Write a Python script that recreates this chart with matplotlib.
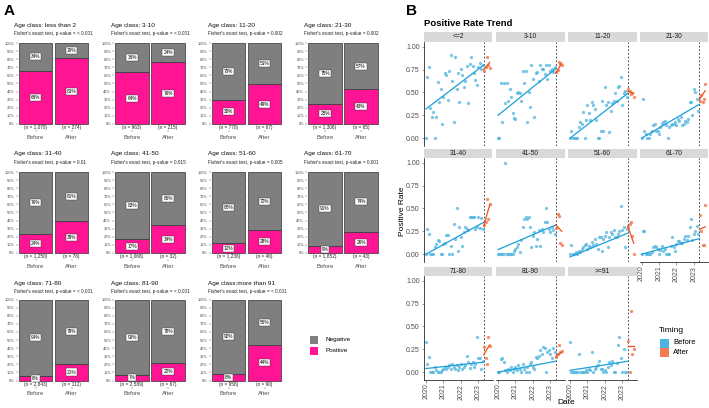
import numpy as np
import matplotlib
matplotlib.use("Agg")
import matplotlib.pyplot as plt
from matplotlib.patches import Rectangle

plt.rcParams['font.family'] = ['Liberation Sans', 'DejaVu Sans']

# ---------------- Panel A data ----------------
age_titles = ["Age class: less than 2", "Age class: 3-10", "Age class: 11-20", "Age class: 21-30",
              "Age class: 31-40", "Age class: 41-50", "Age class: 51-60", "Age class: 61-70",
              "Age class: 71-80", "Age class: 81-90", "Age class:more than 91"]
p_values = ["< 0.001", "< 0.001", "0.002", "0.002", "0.01", "0.015", "0.005", "0.001",
            "< 0.001", "< 0.001", "< 0.001"]
pos_before = [66, 64, 30, 25, 24, 17, 12, 9, 6, 7, 8]
pos_after = [81, 76, 49, 43, 39, 34, 28, 26, 21, 22, 44]
n_before = ["1,070", "963", "770", "1,306", "1,250", "1,068", "1,238", "1,852", "2,843", "2,589", "958"]
n_after = ["274", "215", "67", "65", "76", "32", "46", "43", "112", "67", "90"]
timing_labels = ["Before", "After"]

# ---------------- Panel B data ----------------
facet_names = ["<=2", "3-10", "11-20", "21-30", "31-40", "41-50", "51-60", "61-70",
               "71-80", "81-90", ">=91"]
before_dates = 2020 + np.arange(40) / 12.0   # monthly, Jan 2020 - Apr 2023
after_dates = [2023.35, 2023.42, 2023.50, 2023.57, 2023.65]
cutoff = 2023.31

rate_before = {
    "<=2": [0.00, 0.67, 0.78, 0.33, 0.23, 0.29, 0.00, 0.23, 0.61, 0.40, 0.54, 0.16, 0.45, 0.71, 0.69, 0.42,
            0.73, 0.91, 0.63, 0.18, 0.89, 0.54, 0.71, 0.40, 0.76, 0.69, 0.56, 0.62, 0.79, 0.38, 0.81, 0.89,
            0.79, 0.71, 0.64, 0.58, 0.78, 0.82, 0.76, 0.80],
    "3-10": [0.00, 0.00, 0.60, 0.18, 0.60, 0.38, 0.60, 0.41, 0.54, 0.45, 0.27, 0.22, 0.21, 0.49, 0.51, 0.49,
             0.41, 0.73, 0.60, 0.73, 0.18, 0.50, 0.34, 0.80, 0.65, 0.23, 0.71, 0.72, 0.62, 0.80, 0.76, 0.76,
             0.70, 0.80, 0.65, 0.80, 0.74, 0.76, 0.72, 0.78],
    "11-20": [0.00, 0.08, 0.00, 0.00, 0.00, 0.00, 0.12, 0.18, 0.16, 0.29, 0.00, 0.20, 0.36, 0.27, 0.20, 0.40,
              0.36, 0.32, 0.20, 0.00, 0.00, 0.08, 0.41, 0.08, 0.56, 0.36, 0.40, 0.07, 0.30, 0.38, 0.41, 0.49,
              0.41, 0.56, 0.57, 0.67, 0.36, 0.49, 0.52, 0.45],
    "21-30": [0.00, 0.43, 0.08, 0.05, 0.00, 0.00, 0.05, 0.08, 0.14, 0.16, 0.08, 0.08, 0.05, 0.12, 0.16, 0.18,
              0.19, 0.14, 0.00, 0.12, 0.14, 0.16, 0.16, 0.18, 0.14, 0.21, 0.19, 0.23, 0.14, 0.16, 0.19, 0.18,
              0.21, 0.40, 0.40, 0.25, 0.54, 0.51, 0.43, 0.30],
    "31-40": [0.00, 0.28, 0.22, 0.00, 0.00, 0.00, 0.08, 0.11, 0.15, 0.14, 0.00, 0.00, 0.11, 0.12, 0.21, 0.21,
              0.00, 0.09, 0.00, 0.33, 0.17, 0.50, 0.04, 0.30, 0.19, 0.09, 0.24, 0.30, 0.28, 0.26, 0.41, 0.41,
              0.41, 0.41, 0.28, 0.30, 0.41, 0.29, 0.40, 0.27],
    "41-50": [0.00, 0.00, 0.00, 0.00, 0.00, 1.00, 0.00, 0.00, 0.00, 0.00, 0.00, 0.04, 0.06, 0.08, 0.11, 0.02,
              0.15, 0.30, 0.39, 0.41, 0.39, 0.41, 0.30, 0.08, 0.20, 0.24, 0.09, 0.17, 0.26, 0.09, 0.28, 0.24,
              0.35, 0.50, 0.35, 0.28, 0.24, 0.30, 0.26, 0.22],
    "51-60": [0.00, 0.10, 0.00, 0.00, 0.02, 0.00, 0.04, 0.02, 0.06, 0.08, 0.10, 0.11, 0.06, 0.09, 0.08, 0.13,
              0.10, 0.17, 0.11, 0.06, 0.19, 0.19, 0.04, 0.17, 0.20, 0.24, 0.08, 0.19, 0.24, 0.22, 0.26, 0.19,
              0.19, 0.22, 0.25, 0.53, 0.26, 0.30, 0.08, 0.27],
    "61-70": [0.00, 0.25, 0.25, 0.00, 0.00, 0.00, 0.00, 0.02, 0.08, 0.09, 0.08, 0.06, 0.00, 0.05, 0.09, 0.04,
              0.06, 0.00, 0.00, 0.00, 0.09, 0.19, 0.08, 0.04, 0.11, 0.14, 0.14, 0.12, 0.12, 0.17, 0.20, 0.15,
              0.20, 0.30, 0.38, 0.16, 0.22, 0.25, 0.31, 0.22],
    "71-80": [0.33, 0.09, 0.17, 0.00, 0.00, 0.00, 0.06, 0.02, 0.00, 0.00, 0.00, 0.02, 0.04, 0.06, 0.04, 0.06,
              0.08, 0.04, 0.09, 0.06, 0.04, 0.08, 0.02, 0.06, 0.09, 0.04, 0.06, 0.08, 0.18, 0.11, 0.05, 0.09,
              0.11, 0.06, 0.09, 0.39, 0.15, 0.15, 0.04, 0.12],
    "81-90": [0.00, 0.00, 0.14, 0.15, 0.11, 0.02, 0.00, 0.04, 0.02, 0.06, 0.00, 0.04, 0.06, 0.02, 0.08, 0.04,
              0.00, 0.09, 0.04, 0.00, 0.06, 0.00, 0.09, 0.11, 0.06, 0.04, 0.17, 0.15, 0.18, 0.24, 0.20, 0.27,
              0.26, 0.00, 0.22, 0.24, 0.20, 0.16, 0.26, 0.22],
    ">=91": [0.33, 0.00, 0.00, 0.00, 0.00, 0.00, 0.20, 0.00, 0.00, 0.00, 0.00, 0.02, 0.00, 0.04, 0.02, 0.22,
             0.00, 0.04, 0.06, 0.08, 0.12, 0.04, 0.04, 0.00, 0.02, 0.00, 0.06, 0.11, 0.08, 0.12, 0.00, 0.00,
             0.10, 0.30, 0.39, 0.15, 0.00, 0.25, 0.00, 0.00],
}
rate_after = {
    "<=2": [0.74, 0.78, 0.89, 0.80, 0.77],
    "3-10": [0.72, 0.75, 0.83, 0.81, 0.80],
    "11-20": [0.54, 0.52, 0.48, 0.49, 0.45],
    "21-30": [0.41, 0.47, 0.40, 0.43, 0.59],
    "31-40": [0.32, 0.35, 0.60, 0.39, 0.55],
    "41-50": [0.29, 0.44, 0.42, 0.12, 0.10],
    "51-60": [0.30, 0.33, 0.35, 0.20, 0.00],
    "61-70": [0.43, 0.25, 0.10, 0.10, 0.54],
    "71-80": [0.28, 0.16, 0.09, 0.38, 0.29],
    "81-90": [0.17, 0.20, 0.30, 0.22, 0.23],
    ">=91": [0.34, 0.00, 0.67, 0.20, 0.25],
}
# fitted trend lines (start, end)
fit_before = {"<=2": (0.32, 0.80), "3-10": (0.25, 0.76), "11-20": (0.00, 0.49), "21-30": (0.00, 0.37),
              "31-40": (0.00, 0.35), "41-50": (0.05, 0.32), "51-60": (-0.03, 0.23), "61-70": (0.00, 0.17),
              "71-80": (0.04, 0.11), "81-90": (0.00, 0.12), ">=91": (0.02, 0.12)}
fit_after = {"<=2": (0.75, 0.83), "3-10": (0.71, 0.82), "11-20": (0.51, 0.49), "21-30": (0.42, 0.52),
             "31-40": (0.31, 0.54), "41-50": (0.32, 0.25), "51-60": (0.31, 0.12), "61-70": (0.27, 0.30),
             "71-80": (0.19, 0.30), "81-90": (0.17, 0.22), ">=91": (0.29, 0.29)}

PINK = "#FF1493"
GRAY = "#7F7F7F"
BLUE_PT = "#4DB3E0"
BLUE_LN = "#1A9FD9"
ORANGE_PT = "#F47A4F"
ORANGE_LN = "#F2501A"

W, H = 709, 408
fig = plt.figure(figsize=(W / 100, H / 100), dpi=100)


def add_ax(l, t, r, b):
    return fig.add_axes([l / W, 1 - b / H, (r - l) / W, (b - t) / H])


# ---------------- Panel A ----------------
fig.text(4 / W, 1 - 11 / H, "A", fontsize=11, fontweight="bold", va="center")
a_lefts = [17.5, 114, 210.5, 307]
a_rows = [(41.4, 130, 25, 33), (170.4, 259, 154, 162.5), (298, 386.6, 283, 291)]
for k in range(11):
    r, c = divmod(k, 4)
    top, bot, ty, sy = a_rows[r]
    left = a_lefts[c]
    ax = add_ax(left, top, left + 72, bot)
    pos = [pos_before[k] / 100, pos_after[k] / 100]
    neg = [1 - p for p in pos]
    ax.bar([0, 1], pos, width=0.92, color=PINK, edgecolor="#333333", linewidth=0.5, zorder=2)
    ax.bar([0, 1], neg, bottom=pos, width=0.92, color=GRAY, edgecolor="#333333", linewidth=0.5, zorder=2)
    for i in range(2):
        for val, mid in ((pos[i], pos[i] / 2), (neg[i], pos[i] + neg[i] / 2)):
            ax.text(i, mid, f"{round(val * 100)}%", ha="center", va="center", fontsize=3.4, zorder=3,
                    bbox=dict(boxstyle="square,pad=0.22", fc="white", ec="#333333", lw=0.3))
    ax.text(0, -0.045, f"(n = {n_before[k]})", ha="center", va="center", fontsize=3.4, color="#222222")
    ax.text(1, -0.045, f"(n = {n_after[k]})", ha="center", va="center", fontsize=3.4, color="#222222")
    ax.set_xlim(-0.5, 1.5)
    ax.set_ylim(-0.075, 1.02)
    ax.set_yticks(np.arange(0, 1.01, 0.1))
    ax.set_yticklabels([f"{int(round(v * 100))}%" for v in np.arange(0, 1.01, 0.1)])
    ax.set_xticks([0, 1])
    ax.set_xticklabels(timing_labels)
    ax.tick_params(axis="y", labelsize=2.8, length=1.2, width=0.3, pad=0.8, colors="#4D4D4D")
    ax.tick_params(axis="x", labelsize=4.2, length=1.5, width=0.3, pad=1.8, colors="#4D4D4D")
    ax.yaxis.grid(True, color="#E5E5E5", lw=0.4)
    ax.set_axisbelow(True)
    for s in ax.spines.values():
        s.set_visible(False)
    fig.text((left - 3) / W, 1 - ty / H, age_titles[k], fontsize=4.6, va="center", color="#111111")
    fig.text((left - 3) / W, 1 - sy / H, "Fisher's exact test, p-value = " + p_values[k],
             fontsize=3.4, va="center", color="#222222")

# legend for A
for yy, col, lab in ((340, GRAY, "Negative"), (351, PINK, "Positive")):
    fig.patches.append(Rectangle((310 / W, 1 - (yy + 4) / H), 8 / W, 8 / H, transform=fig.transFigure,
                                 facecolor=col, edgecolor="none"))
    fig.text(325 / W, 1 - yy / H, lab, fontsize=4.6, va="center")

# ---------------- Panel B ----------------
fig.text(406 / W, 1 - 11 / H, "B", fontsize=11, fontweight="bold", va="center")
fig.text(424 / W, 1 - 24 / H, "Positive Rate Trend", fontsize=6.8, fontweight="bold", va="center")
b_lefts = [424, 496, 568, 639.5]
b_width = 68.5
b_rows = [(32, 42, 145.5), (149, 158, 261.5), (267, 276, 379.5)]
for k, name in enumerate(facet_names):
    r, c = divmod(k, 4)
    st, top, bot = b_rows[r]
    left = b_lefts[c]
    sax = add_ax(left, st, left + b_width, top)
    sax.set_facecolor("#D9D9D9")
    sax.set_xticks([])
    sax.set_yticks([])
    for s in sax.spines.values():
        s.set_visible(False)
    sax.text(0.5, 0.5, name, ha="center", va="center", fontsize=4.8, color="#1A1A1A", transform=sax.transAxes)

    ax = add_ax(left, top, left + b_width, bot)
    ax.scatter(before_dates, rate_before[name], s=5.5, color=BLUE_PT, alpha=0.75, linewidths=0, zorder=2)
    ax.scatter(after_dates, rate_after[name], s=5.5, color=ORANGE_PT, alpha=0.85, linewidths=0, zorder=2)
    ax.plot([before_dates[0], cutoff], fit_before[name], color=BLUE_LN, lw=0.9, zorder=3)
    ax.plot([cutoff, after_dates[-1]], fit_after[name], color=ORANGE_LN, lw=0.9, zorder=3)
    ax.axvline(cutoff, color="#333333", ls=(0, (2.2, 2.2)), lw=0.6, zorder=1)
    ax.set_xlim(2019.885, 2023.81)
    ax.set_ylim(-0.08, 1.052)
    ax.set_xticks([2020, 2021, 2022, 2023])
    ax.set_yticks([0, 0.25, 0.5, 0.75, 1.0])
    ax.set_yticklabels(["0.00", "0.25", "0.50", "0.75", "1.00"])
    ax.tick_params(labelsize=5, length=1.8, width=0.4, pad=1.2, colors="#4D4D4D")
    ax.tick_params(axis="x", labelrotation=90)
    if c != 0:
        ax.tick_params(axis="y", labelleft=False, left=False)
    bottom_axis = (r == 2) or (r == 1 and c == 3)
    if not bottom_axis:
        ax.tick_params(axis="x", labelbottom=False, bottom=False)
    for s in ("top", "right"):
        ax.spines[s].set_visible(False)
    ax.spines["left"].set_linewidth(0.5)
    ax.spines["bottom"].set_linewidth(0.5)
    ax.spines["left"].set_visible(c == 0)
    ax.spines["bottom"].set_visible(bottom_axis)

fig.text(402 / W, 1 - 211 / H, "Positive Rate", rotation=90, fontsize=6, va="center", ha="center")
fig.text(566 / W, 1 - 402 / H, "Date", fontsize=6, va="center", ha="center")

# legend for B
fig.text(659 / W, 1 - 331 / H, "Timing", fontsize=6, va="center")
for yy, col, lab in ((343, BLUE_PT, "Before"), (352, ORANGE_PT, "After")):
    fig.patches.append(Rectangle((660 / W, 1 - (yy + 4.5) / H), 9 / W, 9 / H, transform=fig.transFigure,
                                 facecolor=col, edgecolor="none"))
    fig.text(673 / W, 1 - yy / H, lab, fontsize=5.5, va="center")

fig.savefig("out.png", dpi=100)
